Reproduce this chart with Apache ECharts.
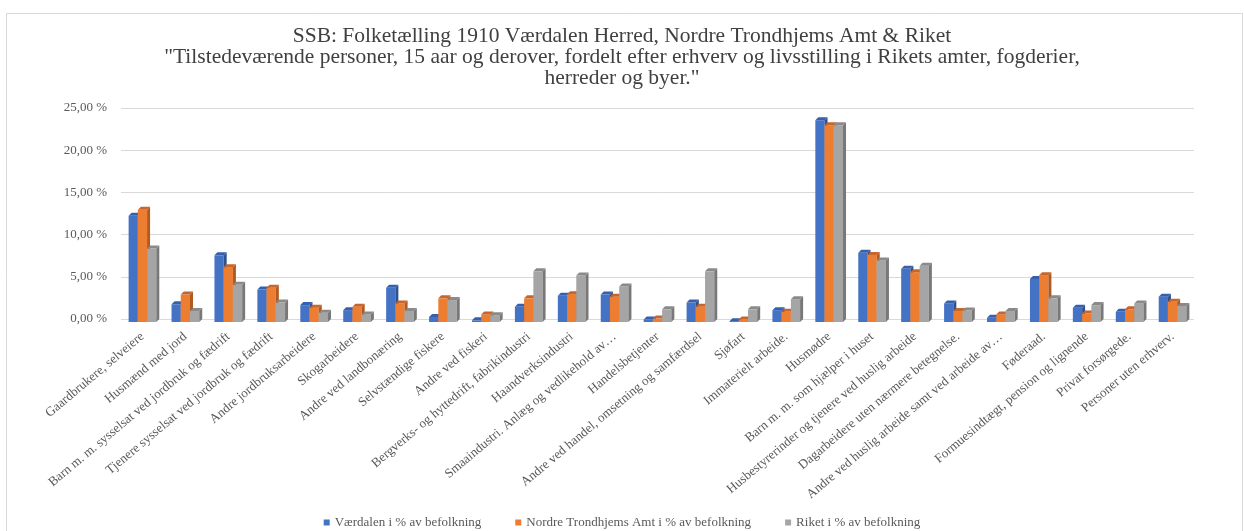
<!DOCTYPE html>
<html>
<head>
<meta charset="utf-8">
<script src="https://cdn.jsdelivr.net/npm/echarts@6/dist/echarts.min.js"></script>
<style>
html,body{margin:0;padding:0;background:#fff;}
#chart{width:1244px;height:531px;}
</style>
</head>
<body>
<div id="chart"></div>
<script>
const categories = [
  "Gaardbrukere, selveiere",
  "Husmænd med jord",
  "Barn m. m. sysselsat ved jordbruk og fædrift",
  "Tjenere sysselsat ved jordbruk og fædrift",
  "Andre jordbruksarbeidere",
  "Skogarbeidere",
  "Andre ved landbonæring",
  "Selvstændige fiskere",
  "Andre ved fiskeri",
  "Bergverks- og hyttedrift, fabrikindustri",
  "Haandverksindustri",
  "Smaaindustri. Anlæg og vedlikehold av…",
  "Handelsbetjenter",
  "Andre ved handel, omsetning og samfærdsel",
  "Sjøfart",
  "Immaterielt arbeide.",
  "Husmødre",
  "Barn m. m. som hjælper i huset",
  "Husbestyrerinder og tjenere ved huslig arbeide",
  "Dagarbeidere uten nærmere betegnelse.",
  "Andre ved huslig arbeide samt ved arbeide av…",
  "Føderaad.",
  "Formuesindtægt, pension og lignende",
  "Privat forsørgede.",
  "Personer uten erhverv."
];
const vaerdalen = [12.6, 2.1, 7.9, 3.85, 2.0, 1.4, 4.05, 0.6, 0.2, 1.8, 3.1, 3.25, 0.3, 2.3, 0.1, 1.4, 23.9, 8.2, 6.3, 2.2, 0.5, 5.1, 1.7, 1.2, 3.0];
const nordre    = [13.3, 3.25, 6.5, 4.05, 1.7, 1.8, 2.2, 2.8, 0.9, 2.8, 3.3, 3.0, 0.4, 1.8, 0.3, 1.2, 23.3, 7.95, 5.9, 1.3, 0.9, 5.55, 1.0, 1.5, 2.4];
const riket     = [8.7, 1.3, 4.4, 2.3, 1.1, 0.9, 1.3, 2.6, 0.8, 6.0, 5.5, 4.2, 1.5, 6.0, 1.5, 2.7, 23.3, 7.3, 6.65, 1.35, 1.3, 2.8, 2.0, 2.2, 1.9];
const seriesNames = ["Værdalen i % av befolkning", "Nordre Trondhjems Amt i % av befolkning", "Riket i % av befolkning"];
const yTicks = [0, 5, 10, 15, 20, 25];

const palette = [
  {front:'#4472C4', side:'#2F528F', top:'#3660AE'},
  {front:'#ED7D31', side:'#AE5A21', top:'#C8652A'},
  {front:'#A5A5A5', side:'#787878', top:'#8A8A8A'}
];
const FONT = 'Liberation Serif';

function renderItem(params, api) {
  const si = params.seriesIndex;
  const ci = api.value(0), v = api.value(1);
  const top = api.coord([ci, v]);
  const base = api.coord([ci, 0]);
  const band = api.size([1, 0])[0];
  const w = band * 0.215;
  const d = 3;
  const cx = top[0] + (si - 1) * w;
  const x0 = cx - w / 2, x1 = cx + w / 2;
  const yT = top[1] + d, yB = base[1] + d;
  const c = palette[si];
  return {
    type: 'group',
    children: [
      {type:'rect', shape:{x:x0, y:yT, width:w, height:yB - yT}, style:{fill:c.front}},
      {type:'polygon', shape:{points:[[x1,yT],[x1+d,yT-d],[x1+d,yB-d],[x1,yB]]}, style:{fill:c.side}},
      {type:'polygon', shape:{points:[[x0,yT],[x0+d,yT-d],[x1+d,yT-d],[x1,yT]]}, style:{fill:c.top}}
    ]
  };
}

const dataSets = [vaerdalen, nordre, riket];
const chart = echarts.init(document.getElementById('chart'));
chart.setOption({
  animation: false,
  backgroundColor: '#fff',
  title: {
    text: 'SSB: Folketælling 1910 Værdalen Herred, Nordre Trondhjems Amt & Riket\n"Tilstedeværende personer, 15 aar og derover, fordelt efter erhverv og livsstilling i Rikets amter, fogderier,\nherreder og byer."',
    left: 'center',
    top: 21,
    textStyle: {fontFamily: FONT, fontSize: 21.5, fontWeight: 'normal', color: '#404040', lineHeight: 21, align: 'center'}
  },
  graphic: [{
    type: 'rect', silent: true, z: -10,
    shape: {x: 6.5, y: 13.5, width: 1236, height: 600},
    style: {fill: 'none', stroke: '#d9d9d9', lineWidth: 1}
  }],
  legend: {
    top: 511,
    left: 'center',
    itemWidth: 6,
    itemHeight: 6,
    itemGap: 34,
    icon: 'rect',
    textStyle: {fontFamily: FONT, fontSize: 13, color: '#595959'},
    data: seriesNames
  },
  grid: {left: 121, right: 50, top: 108, bottom: 212},
  xAxis: {
    type: 'category',
    data: categories,
    axisLine: {show: false},
    axisTick: {show: false},
    axisLabel: {interval: 0, rotate: 40, margin: 16, fontFamily: FONT, fontSize: 13, color: '#595959'}
  },
  yAxis: {
    type: 'value',
    min: yTicks[0],
    max: yTicks[yTicks.length - 1],
    interval: 5,
    axisLine: {show: false},
    axisTick: {show: false},
    splitLine: {lineStyle: {color: '#d9d9d9', width: 1}},
    axisLabel: {
      margin: 14, fontFamily: FONT, fontSize: 13, color: '#595959',
      formatter: v => v.toFixed(2).replace('.', ',') + ' %'
    }
  },
  series: dataSets.map((arr, i) => ({
    name: seriesNames[i],
    type: 'custom',
    renderItem: renderItem,
    itemStyle: {color: palette[i].front},
    encode: {x: 0, y: 1},
    data: arr.map((v, j) => [j, v])
  }))
});
</script>
</body>
</html>
